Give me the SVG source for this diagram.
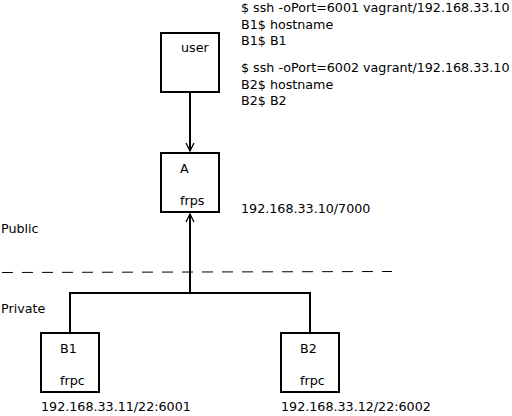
<svg xmlns="http://www.w3.org/2000/svg" width="512" height="416" viewBox="0 0 512 416">
<style>
text{font-family:"DejaVu Sans",sans-serif;font-size:12.7px;fill:#000}
.box{fill:#fff;stroke:#000;stroke-width:2}
.ln{fill:none;stroke:#000;stroke-width:2}
</style>
<defs>
<marker id="arr" viewBox="0 0 10 10" refX="9" refY="5" markerWidth="10" markerHeight="10" markerUnits="userSpaceOnUse" orient="auto">
<path d="M1,1 L9,5 L1,9" fill="none" stroke="#000" stroke-width="1.3"/>
</marker>
</defs>
<rect width="512" height="416" fill="#fff"/>
<g id="connectors">
<line class="ln" x1="190" y1="92" x2="190" y2="151" marker-end="url(#arr)"/>
<line class="ln" x1="190" y1="293" x2="190" y2="214" marker-end="url(#arr)"/>
<polyline class="ln" points="70,333 70,293 310,293 310,333"/>
<line x1="2" y1="272.5" x2="392" y2="271.5" stroke="#000" stroke-width="1" stroke-dasharray="11,9"/>
</g>
<g id="user"><rect class="box" x="161" y="33" width="58" height="59"/><text x="181" y="52">user</text></g>
<g id="A"><rect class="box" x="161" y="153" width="58" height="59"/><text x="180" y="173">A</text><text x="180" y="204.5">frps</text></g>
<g id="B1"><rect class="box" x="41" y="333" width="58" height="59"/><text x="60" y="353">B1</text><text x="60" y="384.5">frpc</text></g>
<g id="B2"><rect class="box" x="281" y="333" width="58" height="59"/><text x="300" y="353">B2</text><text x="300" y="384.5">frpc</text></g>
<g id="labels">
<text x="241" y="12">$ ssh -oPort=6001 vagrant/192.168.33.10</text>
<text x="241" y="28.5">B1$ hostname</text>
<text x="241" y="45">B1$ B1</text>
<text x="241" y="72">$ ssh -oPort=6002 vagrant/192.168.33.10</text>
<text x="241" y="88.5">B2$ hostname</text>
<text x="241" y="105">B2$ B2</text>
<text x="241" y="213">192.168.33.10/7000</text>
<text x="1" y="233">Public</text>
<text x="1" y="313">Private</text>
<text x="41" y="410.5">192.168.33.11/22:6001</text>
<text x="281" y="410.5">192.168.33.12/22:6002</text>
</g>
</svg>
